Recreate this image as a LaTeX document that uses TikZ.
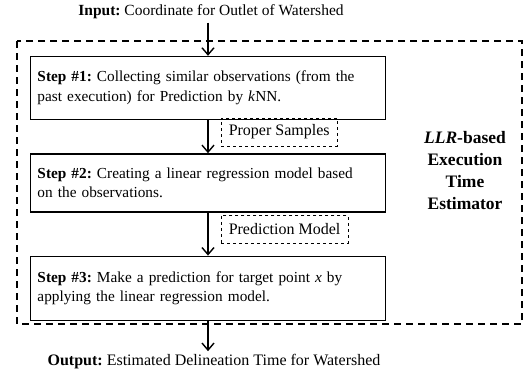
\documentclass[tikz,border=0pt]{standalone}
\usepackage{fontspec}
\setmainfont{Liberation Serif}
\usepackage{tikz}
\usetikzlibrary{arrows.meta,positioning}
\frenchspacing
\hyphenpenalty=10000

\begin{document}
\begin{tikzpicture}[x=1pt, y=-1pt, every node/.style={font=\fontsize{15.5}{19.5}\selectfont}, stepbox/.style={draw, line width=1.4pt, align=left, text width=341pt, minimum width=355pt, minimum height=63pt, inner sep=0pt, font=\fontsize{15.3}{19.5}\selectfont}, tag/.style={draw, dashed, line width=0.5pt, minimum height=28pt, inner xsep=7.5pt, font=\fontsize{16}{19}\selectfont}, arr/.style={-{Straight Barb[length=7pt,width=12pt]}, line width=1.4pt}]
\useasboundingbox (0,0) rectangle (531,372);
\node (input) at (211,12) {\textbf{Input:} Coordinate for Outlet of Watershed};
\node[stepbox] (step1) at (208,88) {\textbf{Step \#1:} Collecting similar observations (from the\\past execution) for Prediction by \textit{k}NN.};
\node[stepbox,below=33pt of step1, minimum height=58pt] (step2) {\textbf{Step \#2:} Creating a linear regression model based\\on the observations.};
\node[stepbox,below=43pt of step2, minimum height=64pt] (step3) {\textbf{Step \#3:} Make a prediction for target point \textit{x} by\\applying the linear regression model.};
\node[tag,anchor=west] (samples) at (221,132) {Proper Samples};
\node[tag,anchor=west] (model) at (221,229) {Prediction Model};
\node[align=center, font=\fontsize{17.5}{22}\selectfont\bfseries] (estimator) at (465,171) {\textit{LLR}-based\\Execution\\Time\\Estimator};
\node[font=\fontsize{16}{19}\selectfont] (output) at (214,362) {\textbf{Output:} Estimated Delineation Time for Watershed};
\draw[dashed, line width=1.4pt, dash pattern=on 7pt off 5pt] (17,41) rectangle (522,324);
\draw[arr] (input.south -| step1) -- (step1);
\draw[arr] (step1)--(step2);
\draw[arr] (step2)--(step3);
\draw[arr] (step3) -- (step3 |- output.north);
\end{tikzpicture}
\end{document}
